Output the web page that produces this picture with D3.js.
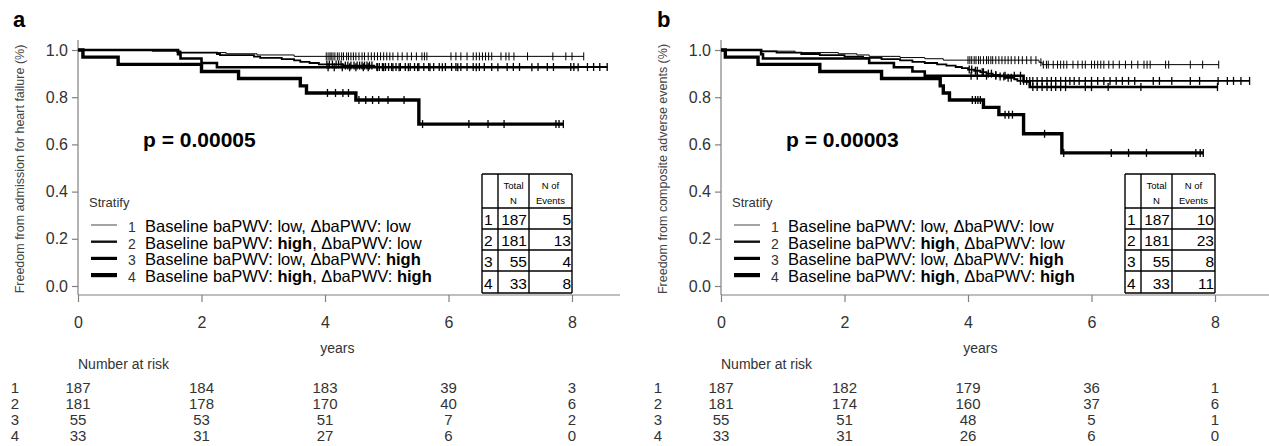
<!DOCTYPE html>
<html>
<head>
<meta charset="utf-8">
<script src="https://cdn.jsdelivr.net/npm/d3@7"></script>
<style>
  body { margin: 0; background: #fff; }
  svg { display: block; font-family: "Liberation Sans", Arial, sans-serif; }
</style>
</head>
<body>
<svg id="chart" width="1269" height="446"></svg>
<script>
/* -------------------------- Data -------------------------- */
var yearTicks = [0, 2, 4, 6, 8];
var survTicks = [0, 0.2, 0.4, 0.6, 0.8, 1.0];
var groups = ['1', '2', '3', '4'];
var baselineLevel = ['low', 'high', 'low', 'high'];
var deltaLevel = ['low', 'low', 'high', 'high'];
var totalN = [187, 181, 55, 33];
var eventsA = [5, 13, 4, 8];
var eventsB = [10, 23, 8, 11];
var riskA = [[187, 184, 183, 39, 3], [181, 178, 170, 40, 6], [55, 53, 51, 7, 2], [33, 31, 27, 6, 0]];
var riskB = [[187, 182, 179, 36, 1], [181, 174, 160, 37, 6], [55, 51, 48, 5, 1], [33, 31, 26, 6, 0]];

// panel a: event times, survival after each event, censor times
var a1Time = [1.2, 1.6, 2.4, 2.9, 3.5];
var a1Surv = [0.995, 0.989, 0.984, 0.979, 0.973];
var a1Cens = [4.02, 4.05, 4.08, 4.1, 4.13, 4.16, 4.2, 4.23, 4.27, 4.3, 4.35, 4.38, 4.42, 4.46, 4.5, 4.55, 4.6, 4.64, 4.7, 4.75, 4.8, 4.85, 4.9, 4.95, 5.0, 5.05, 5.1, 5.18, 5.25, 5.33, 5.4, 5.48, 5.57, 5.61, 5.65, 6.04, 6.12, 6.2, 6.3, 6.4, 6.45, 6.5, 6.55, 6.6, 6.65, 6.7, 6.85, 6.93, 6.98, 7.06, 7.28, 7.69, 7.9, 8.0, 8.19];
var a2Time = [1.62, 1.66, 2.25, 2.3, 2.85, 2.95, 3.3, 3.5, 3.6, 3.75, 3.9, 4.3, 4.8];
var a2Surv = [0.994, 0.989, 0.983, 0.978, 0.972, 0.967, 0.961, 0.956, 0.950, 0.945, 0.939, 0.934, 0.928];
var a2Cens = [4.03, 4.07, 4.12, 4.18, 4.22, 4.26, 4.33, 4.37, 4.42, 4.47, 4.52, 4.56, 4.6, 4.64, 4.68, 4.72, 4.76, 4.84, 4.88, 4.93, 4.98, 5.03, 5.08, 5.15, 5.22, 5.3, 5.38, 5.45, 5.52, 5.6, 5.68, 5.76, 5.85, 5.95, 6.05, 6.12, 6.2, 6.3, 6.4, 6.5, 6.58, 6.7, 6.95, 7.05, 7.15, 7.45, 7.6, 7.7, 7.98, 8.03, 8.25, 8.35, 8.45, 8.57];
var a3Time = [1.62, 1.66, 2.0, 2.25];
var a3Surv = [0.982, 0.964, 0.945, 0.927];
var a3Cens = [4.05, 4.15, 4.28, 4.4, 4.5, 4.62, 4.7, 4.85, 4.95, 5.1, 5.2, 5.35, 5.5, 5.7, 5.9, 6.15, 6.45, 6.8, 7.35, 8.1];
var a4Time = [0.08, 0.65, 2.0, 2.6, 3.6, 3.7, 4.5, 5.52];
var a4Surv = [0.970, 0.939, 0.909, 0.879, 0.848, 0.818, 0.788, 0.686];
var a4Cens = [4.04, 4.17, 4.29, 4.38, 4.55, 4.66, 4.77, 4.87, 5.02, 5.28, 5.58, 6.33, 6.64, 6.9, 7.74, 7.79, 7.86];

// panel b
var b1Time = [0.65, 1.2, 1.9, 2.2, 2.4, 2.9, 3.3, 3.6, 5.15, 5.2];
var b1Surv = [0.995, 0.989, 0.984, 0.979, 0.973, 0.968, 0.963, 0.957, 0.948, 0.938];
var b1Cens = [4.0, 4.03, 4.06, 4.1, 4.13, 4.17, 4.2, 4.25, 4.3, 4.33, 4.37, 4.4, 4.45, 4.5, 4.55, 4.6, 4.65, 4.7, 4.76, 4.82, 4.88, 4.95, 5.02, 5.1, 5.18, 5.22, 5.27, 5.3, 5.38, 5.45, 5.5, 5.55, 5.6, 5.7, 5.78, 5.85, 5.9, 6.0, 6.05, 6.1, 6.15, 6.2, 6.28, 6.35, 6.45, 6.55, 6.65, 6.75, 6.85, 6.9, 6.95, 7.2, 7.25, 7.6, 7.8, 8.06];
var b2Time = [0.65, 0.9, 1.3, 1.6, 2.0, 2.3, 2.6, 2.9, 3.1, 3.3, 3.5, 3.65, 3.8, 3.9, 4.0, 4.1, 4.2, 4.3, 4.4, 4.5, 4.6, 4.75, 4.8];
var b2Surv = [0.994, 0.989, 0.983, 0.978, 0.972, 0.967, 0.961, 0.956, 0.950, 0.945, 0.939, 0.934, 0.928, 0.923, 0.917, 0.912, 0.906, 0.900, 0.894, 0.888, 0.882, 0.876, 0.869];
var b2Cens = [4.02, 4.06, 4.12, 4.15, 4.23, 4.25, 4.33, 4.38, 4.45, 4.52, 4.58, 4.65, 4.7, 4.85, 4.9, 4.95, 5.0, 5.05, 5.12, 5.2, 5.28, 5.35, 5.42, 5.5, 5.58, 5.65, 5.72, 5.8, 5.9, 6.0, 6.1, 6.2, 6.3, 6.4, 6.5, 6.6, 6.7, 7.0, 7.1, 7.3, 7.6, 7.75, 8.05, 8.2, 8.3, 8.42, 8.56];
var b3Time = [0.65, 0.68, 2.4, 2.8, 3.1, 3.3, 4.9, 5.0];
var b3Surv = [0.982, 0.964, 0.945, 0.927, 0.909, 0.891, 0.867, 0.843];
var b3Cens = [4.05, 4.15, 4.3, 4.45, 4.6, 4.75, 4.85, 5.05, 5.12, 5.2, 5.28, 5.35, 5.42, 5.5, 5.58, 5.9, 6.0, 6.27, 6.8, 8.04];
var b4Time = [0.07, 0.6, 1.6, 2.6, 3.55, 3.6, 3.7, 4.25, 4.5, 4.9, 5.52];
var b4Surv = [0.970, 0.939, 0.909, 0.879, 0.848, 0.818, 0.788, 0.757, 0.726, 0.645, 0.564];
var b4Cens = [4.07, 4.12, 4.16, 4.2, 4.6, 4.66, 4.72, 5.24, 5.55, 6.32, 6.6, 6.89, 7.69, 7.76, 7.81];

/* -------------------------- Style -------------------------- */
var curveWidth = [1, 1.8, 2.6, 3.4];
var legendWidth = [1.2, 2.4, 3.2, 4.2];
var legendColor = ['#666', '#111', '#000', '#000'];
var axisColor = '#808080';
var labelColor = '#333';

var panels = [
  { letter: 'a', x0: 78, xEnd: 620, letterX: 13, titleX: 20,
    yTitle: 'Freedom from admission for heart failure (%)', p: 'p = 0.00005',
    events: eventsA, risk: riskA, rowLabelX: 15,
    curves: [[a1Time, a1Surv, a1Cens], [a2Time, a2Surv, a2Cens], [a3Time, a3Surv, a3Cens], [a4Time, a4Surv, a4Cens]] },
  { letter: 'b', x0: 721, xEnd: 1269, letterX: 657, titleX: 663,
    yTitle: 'Freedom from composite adverse events (%)', p: 'p = 0.00003',
    events: eventsB, risk: riskB, rowLabelX: 658,
    curves: [[b1Time, b1Surv, b1Cens], [b2Time, b2Surv, b2Cens], [b3Time, b3Surv, b3Cens], [b4Time, b4Surv, b4Cens]] }
];

var svg = d3.select('#chart');

/* ------------------------ Helpers ------------------------ */
function survAt(times, surv, t) {
  var k = d3.bisectRight(times, t);
  return k === 0 ? 1 : surv[k - 1];
}

function drawPanel(cfg) {
  var g = svg.append('g');
  var x = d3.scaleLinear().domain([0, 8]).range([cfg.x0, cfg.x0 + 494]);
  var y = d3.scaleLinear().domain([0, 1]).range([286, 50]);
  var axisY = 295;

  // panel letter
  g.append('text').attr('x', cfg.letterX).attr('y', 27)
    .style('font-size', '22px').style('font-weight', 'bold').text(cfg.letter);

  // L-shaped frame
  g.append('line').attr('x1', cfg.x0).attr('x2', cfg.x0).attr('y1', 40).attr('y2', axisY)
    .attr('stroke', axisColor).attr('stroke-width', 1.2);
  g.append('line').attr('x1', cfg.x0).attr('x2', cfg.xEnd).attr('y1', axisY).attr('y2', axisY)
    .attr('stroke', axisColor).attr('stroke-width', 1.2);

  // y axis
  var yAxis = d3.axisLeft(y).tickValues(survTicks).tickFormat(d3.format('.1f')).tickSize(6).tickPadding(4);
  var ya = g.append('g').attr('transform', 'translate(' + cfg.x0 + ',0)').call(yAxis);
  ya.select('.domain').remove();
  ya.selectAll('line').attr('stroke', axisColor).attr('stroke-width', 1.2);
  ya.selectAll('text').attr('fill', labelColor).style('font-size', '16px').style('font-family', '"Liberation Sans", Arial, sans-serif');

  // x axis
  var xAxis = d3.axisBottom(x).tickValues(yearTicks).tickSize(7).tickPadding(14.5);
  var xa = g.append('g').attr('transform', 'translate(0,' + axisY + ')').call(xAxis);
  xa.select('.domain').remove();
  xa.selectAll('line').attr('stroke', axisColor).attr('stroke-width', 1.2);
  xa.selectAll('text').attr('fill', labelColor).style('font-size', '16px').style('font-family', '"Liberation Sans", Arial, sans-serif');

  // axis titles
  g.append('text').attr('transform', 'translate(' + cfg.titleX + ',169) rotate(-90)')
    .attr('text-anchor', 'middle').attr('dy', '0.35em').attr('fill', '#444')
    .style('font-size', '12.5px').text(cfg.yTitle);
  g.append('text').attr('x', x(4.2)).attr('y', 353).attr('text-anchor', 'middle')
    .attr('fill', labelColor).style('font-size', '14px').text('years');

  // curves
  var line = d3.line().curve(d3.curveStepAfter).x(function (d) { return x(d[0]); }).y(function (d) { return y(d[1]); });
  cfg.curves.forEach(function (c, i) {
    var times = c[0], surv = c[1], cens = c[2];
    var pts = [[0, 1]];
    times.forEach(function (t, k) { pts.push([t, surv[k]]); });
    pts.push([d3.max(cens), surv[surv.length - 1]]);
    g.append('path').attr('d', line(pts)).attr('fill', 'none')
      .attr('stroke', '#000').attr('stroke-width', curveWidth[i]);
    g.selectAll('.cens' + i).data(cens).enter().append('line')
      .attr('x1', function (d) { return x(d); }).attr('x2', function (d) { return x(d); })
      .attr('y1', function (d) { return y(survAt(times, surv, d)) - 4; })
      .attr('y2', function (d) { return y(survAt(times, surv, d)) + 4; })
      .attr('stroke', '#000').attr('stroke-width', i === 0 ? 1 : 1.3);
  });

  // p value
  g.append('text').attr('x', cfg.x0 + 65).attr('y', 147)
    .style('font-size', '21px').style('font-weight', 'bold').text(cfg.p);

  // legend
  var lx = cfg.x0;
  g.append('text').attr('x', lx + 11).attr('y', 207).attr('fill', labelColor)
    .style('font-size', '13px').text('Stratify');
  groups.forEach(function (grp, i) {
    var base = 232 + i * 16.7;
    g.append('line').attr('x1', lx + 13).attr('x2', lx + 39).attr('y1', base - 7).attr('y2', base - 7)
      .attr('stroke', legendColor[i]).attr('stroke-width', legendWidth[i]);
    g.append('text').attr('x', lx + 54).attr('y', base).attr('text-anchor', 'middle')
      .attr('fill', labelColor).style('font-size', '14px').text(grp);
    var t = g.append('text').attr('x', lx + 67).attr('y', base).style('font-size', '16.5px');
    t.append('tspan').text('Baseline baPWV: ');
    t.append('tspan').style('font-weight', baselineLevel[i] === 'high' ? 'bold' : 'normal').text(baselineLevel[i]);
    t.append('tspan').text(', \u0394baPWV: ' + (i === 0 ? ' ' : ''));
    t.append('tspan').style('font-weight', deltaLevel[i] === 'high' ? 'bold' : 'normal').text(deltaLevel[i]);
  });

  // summary table
  var colX = [cfg.x0 + 404, cfg.x0 + 420, cfg.x0 + 451, cfg.x0 + 494];
  var rowY = [174, 208, 229, 250, 271, 293];
  var tb = g.append('g').attr('stroke', '#000').attr('stroke-width', 1.4);
  colX.forEach(function (cx) {
    tb.append('line').attr('x1', cx).attr('x2', cx).attr('y1', rowY[0]).attr('y2', rowY[5]);
  });
  rowY.forEach(function (ry) {
    tb.append('line').attr('x1', colX[0]).attr('x2', colX[3]).attr('y1', ry).attr('y2', ry);
  });
  var hdr = [['Total', 'N'], ['N of', 'Events']];
  hdr.forEach(function (h, j) {
    var cx = (colX[j + 1] + colX[j + 2]) / 2;
    h.forEach(function (s, k) {
      g.append('text').attr('x', cx).attr('y', 189 + k * 15).attr('text-anchor', 'middle')
        .style('font-size', '9.5px').text(s);
    });
  });
  groups.forEach(function (grp, i) {
    var by = rowY[i + 2] - 4;
    g.append('text').attr('x', colX[0] + 2).attr('y', by).style('font-size', '15.5px').text(grp);
    g.append('text').attr('x', colX[2] - 2).attr('y', by).attr('text-anchor', 'end')
      .style('font-size', '15.5px').text(totalN[i]);
    g.append('text').attr('x', colX[3] - 1).attr('y', by).attr('text-anchor', 'end')
      .style('font-size', '15.5px').text(cfg.events[i]);
  });

  // number at risk
  g.append('text').attr('x', cfg.x0).attr('y', 369).attr('fill', labelColor)
    .style('font-size', '14px').text('Number at risk');
  cfg.risk.forEach(function (row, i) {
    var by = 393 + i * 16;
    g.append('text').attr('x', cfg.rowLabelX).attr('y', by).attr('text-anchor', 'middle')
      .attr('fill', labelColor).style('font-size', '15px').text(groups[i]);
    g.selectAll('.risk' + i).data(row).enter().append('text')
      .attr('x', function (d, j) { return x(yearTicks[j]); }).attr('y', by)
      .attr('text-anchor', 'middle').attr('fill', labelColor).style('font-size', '15px')
      .text(function (d) { return d; });
  });
}

panels.forEach(drawPanel);
</script>
</body>
</html>
